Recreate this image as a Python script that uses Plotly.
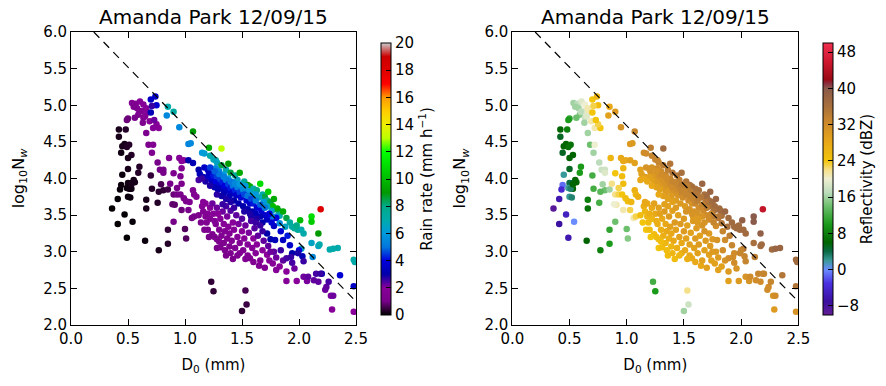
import plotly.graph_objects as go

# ---------------- data ----------------
d0 = [
    # top-left cluster / upper points
    0.535,0.57,0.605,0.635,0.58,0.62,0.66,0.59,0.56,0.50,
    0.49,0.635,0.67,0.63,0.66,0.72,0.77,0.68,0.72,0.71,
    0.69,0.70,0.75,0.70,0.74,0.71,0.84,0.85,0.90,0.95,
    1.07,1.03,1.05,1.21,1.32,1.15,1.17,1.22,1.27,0.60,
    0.55,0.65,0.75,0.73,
    # low rain-rate points
    0.42,0.48,0.42,0.47,0.45,0.49,0.51,0.44,0.53,0.50,
    0.60,0.59,0.50,0.45,0.55,0.53,0.56,0.50,0.44,0.49,
    0.52,0.43,0.53,0.50,0.52,0.41,0.36,0.47,0.41,0.54,
    0.49,0.65,0.77,0.85,0.85,0.66,0.66,0.76,0.71,0.70,
    0.81,0.77,0.85,1.00,1.01,1.23,1.25,1.53,1.54,1.50,
    0.90,0.51,0.53,
    # middle band
    0.76,0.78,0.81,0.81,0.90,0.86,0.95,0.97,0.99,1.03,
    1.07,0.97,0.96,0.97,0.90,0.93,0.96,0.99,1.01,1.04,
    1.07,1.08,1.10,1.03,0.91,0.89,1.06,1.08,0.97,1.12,
    1.13,1.12,1.16,1.17,1.20,1.21,0.93,0.87,0.79,
    # near the dashed line
    1.25,1.28,1.32,1.38,1.36,1.40,1.44,1.48,1.46,1.52,
    1.55,1.57,1.60,1.63,1.66,1.68,1.70,1.73,1.72,1.75,
    1.78,1.78,1.82,1.83,1.86,1.81,1.77,1.58,1.62,1.65,
    1.55,1.50,1.42,1.38,1.34,1.30,1.27,1.69,1.72,1.76,
    1.80,1.80,1.76,1.88,1.89,1.94,1.96,1.99,2.02,2.04,
    2.01,2.11,2.11,2.17,2.19,1.83,2.02,2.11,2.12,2.17,
    2.18,2.27,2.30,2.34,2.48,2.49,1.92,1.98,
    # dense core (blue)
    1.20,1.23,1.25,1.24,1.27,1.28,1.30,1.31,1.32,1.33,
    1.35,1.36,1.37,1.38,1.40,1.41,1.42,1.44,1.45,1.46,
    1.48,1.49,1.51,1.52,1.54,1.55,1.57,1.58,1.60,1.62,
    1.63,1.66,1.67,1.70,1.29,1.26,1.22,1.34,1.39,1.43,
    1.47,1.51,1.55,1.59,1.36,1.32,1.28,1.40,1.18,1.15,
    1.34,1.40,1.44,1.48,1.53,1.30,1.26,1.22,1.74,1.72,
    1.70,1.66,1.62,1.72,1.75,1.79,1.86,1.92,1.94,2.00,
    2.03,2.20,2.36,2.48,1.78,1.84,1.90,1.68,1.76,1.63,
    1.58,
    # lower band (purple)
    1.15,1.16,1.18,1.17,1.20,1.19,1.22,1.22,1.24,1.25,
    1.26,1.27,1.28,1.28,1.28,1.30,1.31,1.31,1.32,1.33,
    1.34,1.34,1.35,1.36,1.37,1.37,1.38,1.39,1.39,1.40,
    1.41,1.42,1.42,1.43,1.44,1.45,1.46,1.47,1.48,1.48,
    1.50,1.50,1.51,1.52,1.53,1.55,1.55,1.56,1.57,1.58,
    1.59,1.60,1.61,1.62,1.63,1.64,1.65,1.66,1.66,1.68,
    1.69,1.70,1.72,1.73,1.74,1.77,1.78,1.80,1.80,1.83,
    1.84,1.86,1.89,1.89,1.89,1.93,1.96,1.98,1.99,2.04,
    2.04,2.07,2.08,2.13,2.15,2.17,2.19,2.23,2.24,2.26,
    2.28,2.30,2.29,2.48,1.16,1.18,1.20,1.24,1.26,1.29,
    1.33,1.35,1.43,1.46,1.52,1.57,1.53,1.60,1.62,1.68,
    1.75,1.94,1.12,1.14,1.21,1.30,1.36,1.40,
]

log_nw = [
    5.03,5.02,5.05,5.01,4.96,4.92,4.96,4.87,4.83,4.82,
    4.80,4.83,4.90,4.76,4.62,4.69,4.69,4.46,4.46,4.35,
    4.78,4.90,5.00,5.08,5.12,4.99,4.86,4.98,4.91,4.70,
    4.64,4.47,4.48,4.42,4.41,4.35,4.34,4.31,4.25,4.91,
    4.98,4.85,4.74,4.80,
    4.67,4.67,4.57,4.47,4.44,4.43,4.46,4.35,4.32,4.28,
    4.16,4.08,4.13,4.05,3.98,3.94,3.95,3.94,3.91,3.87,
    3.86,3.85,3.86,3.75,3.74,3.72,3.59,3.51,3.38,3.41,
    3.19,3.15,3.02,3.11,3.30,3.71,3.59,3.67,3.86,4.04,
    3.84,3.82,3.85,3.31,3.18,2.59,2.46,2.47,2.28,2.19,
    3.41,3.86,3.92,
    4.22,4.12,4.12,4.08,4.07,4.28,4.28,4.24,4.25,4.25,
    4.21,4.14,4.03,3.93,3.78,3.78,3.78,3.73,3.69,3.68,
    3.84,3.78,3.75,3.57,3.64,3.65,3.46,3.48,3.57,4.12,
    4.06,3.98,4.02,4.15,4.12,4.08,3.87,3.93,3.92,
    4.26,4.22,4.18,4.20,4.12,4.08,4.04,4.08,3.98,3.96,
    3.91,3.89,3.86,3.84,3.93,3.78,3.75,3.82,3.70,3.68,
    3.72,3.58,3.56,3.49,3.55,3.59,3.62,3.80,3.78,3.74,
    3.83,3.88,3.95,4.00,4.05,4.10,4.14,3.68,3.62,3.56,
    3.48,3.46,3.48,3.34,3.46,3.34,3.32,3.30,3.30,3.25,
    3.43,3.48,3.41,3.25,3.58,3.39,3.04,3.12,2.93,3.08,
    3.10,3.03,3.04,3.05,2.89,2.86,3.40,3.36,
    4.02,3.98,4.04,3.93,3.96,4.03,3.92,3.99,3.87,3.95,
    3.90,3.98,3.84,3.92,3.87,3.80,3.90,3.84,3.77,3.88,
    3.81,3.74,3.85,3.78,3.70,3.76,3.66,3.72,3.66,3.70,
    3.60,3.64,3.56,3.60,3.85,3.88,3.90,3.80,3.76,3.70,
    3.66,3.62,3.58,3.55,3.72,3.76,3.78,3.68,3.96,4.00,
    4.02,3.96,3.93,3.92,3.90,4.06,4.10,4.15,3.52,3.44,
    3.50,3.48,3.52,3.25,3.17,3.16,3.16,3.09,2.98,3.02,
    2.94,2.70,2.68,2.53,3.35,3.28,3.22,3.40,3.40,3.45,
    3.48,
    3.62,3.55,3.48,3.30,3.30,3.40,3.45,3.60,3.24,3.52,
    3.20,3.38,3.17,3.60,3.05,3.30,3.06,3.45,3.22,3.55,
    3.12,3.38,3.28,3.62,3.18,3.48,3.34,3.07,3.25,3.56,
    3.15,2.90,3.40,3.30,3.05,3.50,3.20,3.38,2.98,3.12,
    3.28,3.45,3.02,3.18,3.36,2.95,3.10,3.26,2.91,3.42,
    3.05,3.18,3.32,2.98,3.10,3.22,2.81,2.88,3.36,3.02,
    3.15,2.78,2.96,3.08,2.88,2.84,3.00,2.75,2.92,2.80,
    3.02,2.88,2.73,2.60,2.91,2.93,2.77,2.60,2.98,2.87,
    2.66,2.60,2.66,2.61,2.70,2.59,2.70,2.48,2.52,2.59,
    2.40,2.40,2.21,2.18,3.68,3.66,3.52,3.66,3.42,3.52,
    3.65,3.02,3.60,2.95,3.55,3.52,2.90,2.86,3.40,3.28,
    3.00,2.85,3.50,3.40,3.20,3.14,2.95,2.98,
]

rain_rate = [
    1.5,1.6,1.8,1.8,1.5,1.6,1.9,1.4,1.2,0.9,
    0.9,1.6,1.9,1.4,1.3,1.8,2.0,1.3,1.6,1.4,
    1.9,3.2,3.8,3.5,3.6,2.6,5.5,7.0,7.2,5.5,
    9.0,5.3,5.5,9.5,13.0,6.0,6.2,7.0,7.2,1.5,
    1.4,1.7,1.9,2.2,
    0.2,0.3,0.2,0.2,0.2,0.3,0.3,0.15,0.3,0.2,
    0.3,0.3,0.2,0.1,0.2,0.2,0.2,0.15,0.1,0.1,
    0.15,0.08,0.15,0.1,0.1,0.05,0.03,0.05,0.03,0.06,
    0.03,0.1,0.2,0.3,0.4,0.2,0.2,0.3,0.3,0.4,
    0.4,0.35,0.5,0.7,0.7,0.4,0.4,0.6,0.5,0.4,
    1.0,0.12,0.2,
    1.0,1.0,1.1,1.0,1.3,1.5,1.8,1.9,2.0,3.0,
    3.2,1.6,1.4,1.3,0.9,1.0,1.1,1.2,1.3,1.3,
    1.5,1.5,1.6,1.1,0.8,0.8,1.0,1.1,0.9,3.0,
    3.2,2.5,3.2,3.5,3.6,3.4,1.1,1.0,0.6,
    6.8,6.5,8.5,9.0,7.0,8.5,7.5,9.5,6.5,7.5,
    9.0,9.5,7.0,8.0,11.0,7.0,8.5,10.5,8.0,8.5,
    9.5,9.0,8.0,7.0,9.5,9.5,10.0,6.5,6.0,6.5,
    6.0,6.0,5.5,6.0,6.0,5.5,5.5,6.0,6.5,6.5,
    5.5,4.0,5.0,6.5,8.5,7.0,7.5,7.5,7.0,7.0,
    10.0,11.0,10.5,9.0,18.0,5.5,6.5,6.5,5.5,6.5,
    7.0,7.0,7.0,7.0,7.0,7.0,7.5,8.0,
    3.5,3.8,4.2,3.3,4.0,4.5,3.8,4.5,3.5,4.2,
    4.0,5.0,3.6,4.5,4.2,3.6,5.0,4.3,3.6,5.2,
    4.5,3.8,5.5,4.6,3.8,5.0,3.6,4.6,4.2,5.2,
    3.8,4.8,3.8,5.0,3.2,3.2,2.8,3.2,3.3,3.0,
    3.1,3.0,3.1,3.0,2.8,2.9,2.7,2.8,2.8,2.6,
    5.2,5.0,5.5,6.0,6.0,5.0,4.8,4.5,4.0,3.5,
    3.6,3.2,3.3,3.0,3.0,3.3,3.5,3.6,3.0,4.0,
    3.2,3.2,3.8,3.5,3.5,3.8,4.2,3.0,3.8,2.8,
    2.8,
    1.8,1.6,1.6,1.3,1.4,1.5,1.6,1.9,1.4,1.8,
    1.3,1.6,1.4,2.2,1.2,1.6,1.3,1.9,1.5,2.2,
    1.4,1.8,1.7,2.5,1.6,2.1,1.8,1.4,1.7,2.4,
    1.6,1.2,2.0,1.9,1.5,2.3,1.8,2.1,1.5,1.7,
    2.0,2.4,1.6,1.9,2.2,1.6,1.8,2.1,1.6,2.5,
    1.8,2.0,2.4,1.8,2.0,2.3,1.6,1.7,2.6,2.0,
    2.3,1.6,2.0,2.3,1.9,1.9,2.3,1.8,2.2,2.0,
    2.6,2.3,2.0,1.8,2.5,2.6,2.2,2.0,2.8,2.6,
    2.2,2.1,2.3,2.3,2.5,2.3,2.6,2.2,2.3,2.5,
    2.1,2.2,1.8,2.0,1.9,1.9,1.7,2.2,1.7,2.0,
    2.6,1.3,2.6,1.4,2.8,2.8,1.5,1.6,2.6,2.6,
    2.2,2.5,1.4,1.3,1.2,1.4,1.2,1.3,
]

reflectivity = [
    16,17,19,20,16,19,21,15,14,11,
    10,18,21,16,16,21,24,14,20,16,
    21,24,25,24,26,23,29,28,30,31,
    33,30,30,34,37,32,32,33,34,17,
    16,19,23,24,
    6,8,5,6,6,7,7,5,6,6,
    10,10,5,2,6,5,6,4,-1,2,
    5,-4,6,2,3,-6,-9,-5,-7,0,
    -6,6,8,10,11,8,7,12,12,12,
    14,13,16,14,15,12,10,22,18,16,
    14,3,6,
    17,18,18,19,24,26,28,28,28,29,
    29,26,25,25,22,23,24,25,25,26,
    27,26,27,23,21,20,21,23,21,29,
    29,28,30,31,31,31,23,22,16,
    33,33,34,35,34,35,35,36,34,35,
    36,36,36,36,38,36,37,38,36,37,
    38,36,37,36,38,37,37,35,35,35,
    34,34,33,33,33,32,32,35,36,36,
    35,35,34,36,37,37,37,37,37,37,
    39,40,40,39,45,35,35,36,34,37,
    37,37,38,38,37,37,37,37,
    29,29,30,29,30,31,30,31,30,31,
    31,32,30,32,32,31,32,32,31,33,
    33,32,33,33,32,33,31,33,33,34,
    32,33,32,34,29,29,28,30,30,30,
    30,30,31,31,29,29,28,29,28,28,
    32,33,33,34,34,32,31,31,33,32,
    32,31,31,30,30,31,32,33,32,33,
    33,33,35,35,32,33,34,31,33,30,
    30,
    27,26,26,24,25,25,26,28,25,28,
    25,27,25,29,24,27,25,28,27,30,
    26,28,28,29,27,30,29,26,28,29,
    28,25,30,29,27,29,29,30,27,28,
    30,30,28,29,29,28,29,29,28,30,
    29,30,30,29,30,29,28,29,31,29,
    30,29,29,30,29,29,30,29,30,29,
    32,31,30,29,32,32,31,30,33,33,
    31,31,32,32,33,32,33,32,32,33,
    31,32,30,31,28,28,27,29,27,29,
    29,25,30,26,31,31,27,28,30,31,
    30,32,25,24,24,25,25,26,
]

assert len(d0) == len(log_nw) == len(rain_rate) == len(reflectivity)

# dashed reference line
line_d0 = [0.2, 2.5]
line_lognw = [6.0, 2.32]

x_ticks = [0.0, 0.5, 1.0, 1.5, 2.0, 2.5]
y_ticks = [2.0, 2.5, 3.0, 3.5, 4.0, 4.5, 5.0, 5.5, 6.0]
rain_ticks = [0, 2, 4, 6, 8, 10, 12, 14, 16, 18, 20]
refl_ticks = [-8, 0, 8, 16, 24, 32, 40, 48]
panel_title = "Amanda Park 12/09/15"

# ---------------- colour scales ----------------
nipy_stops = [0.0, 0.05, 0.10, 0.15, 0.20, 0.25, 0.30, 0.35, 0.40, 0.45, 0.50,
              0.55, 0.60, 0.65, 0.70, 0.75, 0.80, 0.85, 0.90, 0.95, 1.0]
nipy_rgb = [(0, 0, 0), (119, 0, 136), (136, 0, 153), (0, 0, 170), (0, 0, 221),
            (0, 119, 221), (0, 153, 221), (0, 170, 170), (0, 170, 136), (0, 153, 0),
            (0, 187, 0), (0, 221, 0), (0, 255, 0), (187, 255, 0), (238, 238, 0),
            (255, 204, 0), (255, 153, 0), (255, 0, 0), (221, 0, 0), (204, 0, 0),
            (204, 204, 204)]
rain_scale = [[s, "rgb(%d,%d,%d)" % c] for s, c in zip(nipy_stops, nipy_rgb)]

refl_stops = [-10, -7, -3, 0, 2, 4, 6, 10, 14, 17, 20, 22, 24, 28, 32, 36, 40, 41, 42, 46, 50]
refl_rgb = [(100, 30, 150), (60, 16, 160), (74, 48, 224), (106, 140, 255), (58, 154, 154),
            (10, 106, 70), (0, 100, 0), (26, 154, 26), (108, 191, 108), (188, 220, 188),
            (238, 238, 208), (245, 224, 138), (242, 196, 12), (232, 168, 24), (208, 140, 42),
            (168, 112, 60), (138, 90, 74), (138, 48, 64), (154, 10, 20), (208, 24, 48),
            (240, 48, 80)]
refl_scale = [[(s + 10) / 60.0, "rgb(%d,%d,%d)" % c] for s, c in zip(refl_stops, refl_rgb)]

# ---------------- geometry ----------------
W, H = 886, 386
FONT = "DejaVu Sans"
left_dom = [71 / W, 356 / W]
right_dom = [512.3 / W, 798.3 / W]
y_dom = [1 - 325 / H, 1 - 32 / H]
cb_y = 1 - 179 / H

fig = go.Figure()

def colorbar(x_px, ticks, title):
    return dict(x=x_px / W, xanchor="left", y=cb_y, yanchor="middle",
                len=292, lenmode="pixels", thickness=10,
                outlinecolor="black", outlinewidth=1,
                ticks="inside", ticklen=5, tickcolor="black",
                tickvals=ticks, tickfont=dict(size=15, family=FONT, color="black"),
                title=dict(text=title, side="right",
                           font=dict(size=15, family=FONT, color="black")))

fig.add_trace(go.Scatter(
    x=d0, y=log_nw, mode="markers", xaxis="x", yaxis="y", showlegend=False,
    marker=dict(size=6.5, color=rain_rate, colorscale=rain_scale, cmin=0, cmax=20,
                line=dict(width=0),
                colorbar=colorbar(371, rain_ticks, "Rain rate (mm h<sup>−1</sup>)"))))
fig.add_trace(go.Scatter(
    x=line_d0, y=line_lognw, mode="lines", xaxis="x", yaxis="y", showlegend=False,
    line=dict(color="black", width=1.2, dash="8px,6px")))

fig.add_trace(go.Scatter(
    x=d0, y=log_nw, mode="markers", xaxis="x2", yaxis="y2", showlegend=False,
    marker=dict(size=6.5, color=reflectivity, colorscale=refl_scale, cmin=-10, cmax=50,
                line=dict(width=0),
                colorbar=colorbar(813, refl_ticks, "Reflectivity (dBZ)"))))
fig.add_trace(go.Scatter(
    x=line_d0, y=line_lognw, mode="lines", xaxis="x2", yaxis="y2", showlegend=False,
    line=dict(color="black", width=1.2, dash="8px,6px")))

axis_common = dict(showline=True, linecolor="black", linewidth=1, mirror="ticks",
                   ticks="inside", ticklen=6, tickcolor="black", showgrid=False,
                   zeroline=False, automargin=False,
                   tickfont=dict(size=15, family=FONT, color="black"))

xt = dict(text="D<sub>0</sub> (mm)", font=dict(size=15, family=FONT, color="black"), standoff=12)
yt = dict(text="log<sub>10</sub>N<sub><i>w</i></sub>", font=dict(size=16, family=FONT, color="black"),
          standoff=14)

fig.update_layout(
    width=W, height=H, margin=dict(l=0, r=0, t=0, b=0, autoexpand=False),
    paper_bgcolor="white", plot_bgcolor="white",
    font=dict(family=FONT, color="black"),
    xaxis=dict(domain=left_dom, range=[0, 2.5], tickvals=x_ticks, tickformat=".1f",
               anchor="y", title=xt, **axis_common),
    yaxis=dict(domain=y_dom, range=[2, 6], tickvals=y_ticks, tickformat=".1f",
               anchor="x", title=yt, **axis_common),
    xaxis2=dict(domain=right_dom, range=[0, 2.5], tickvals=x_ticks, tickformat=".1f",
                anchor="y2", title=xt, **axis_common),
    yaxis2=dict(domain=y_dom, range=[2, 6], tickvals=y_ticks, tickformat=".1f",
                anchor="x2", title=yt, **axis_common),
    annotations=[
        dict(text=panel_title, x=sum(left_dom) / 2, y=1 - 17 / H, xref="paper", yref="paper",
             xanchor="center", yanchor="middle", showarrow=False,
             font=dict(size=20, family=FONT, color="black")),
        dict(text=panel_title, x=sum(right_dom) / 2, y=1 - 17 / H, xref="paper", yref="paper",
             xanchor="center", yanchor="middle", showarrow=False,
             font=dict(size=20, family=FONT, color="black")),
    ],
)

fig.write_html("out.html", config={"displayModeBar": False},
               post_script="document.body.style.margin='0';document.body.style.overflow='hidden';")
